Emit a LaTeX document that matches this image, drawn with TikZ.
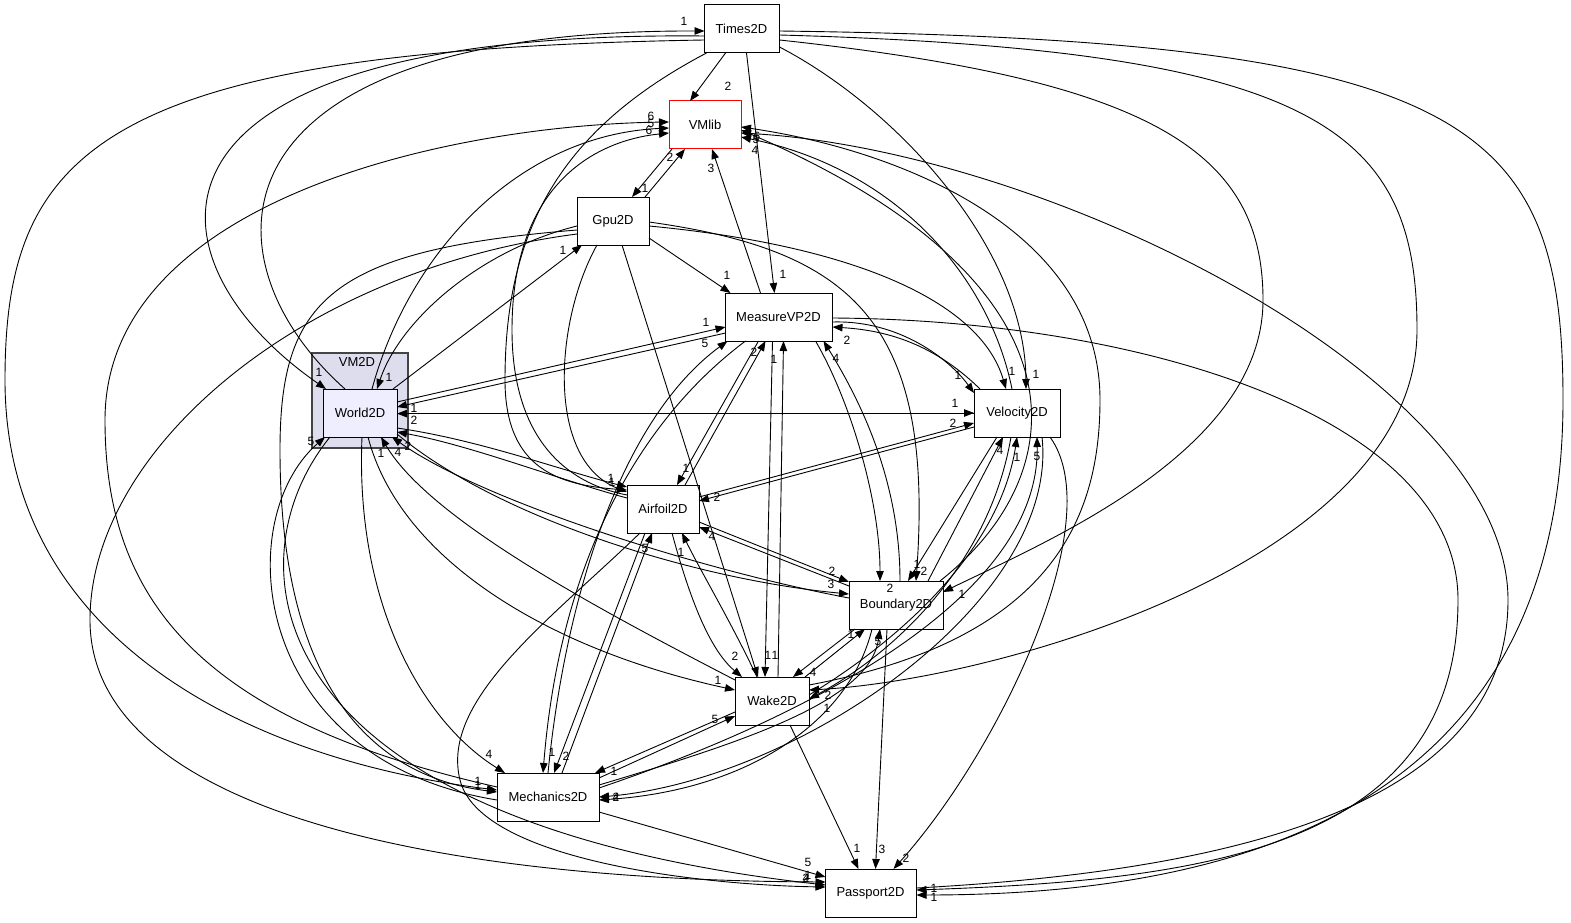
\documentclass[tikz,border=0pt]{standalone}
\usepackage{fontspec}
\setmainfont{Liberation Sans}
\usetikzlibrary{arrows.meta}
\definecolor{clfill}{RGB}{221,221,238}
\definecolor{clline}{RGB}{68,68,68}
\definecolor{wfill}{RGB}{238,238,255}
\tikzset{
  dep/.style={draw=black, line width=0.9pt, -{Triangle[length=10pt,width=7.5pt]}},
  lab/.style={font=\fontsize{12}{12}\selectfont, inner sep=0pt},
  box/.style={draw=black, line width=1pt, fill=white, minimum height=48pt, inner sep=0pt, font=\fontsize{13}{13}\selectfont},
}
\begin{document}
\begin{tikzpicture}[x=1pt,y=-1pt]
\path[use as bounding box, fill=white] (0,0) rectangle (1571,923);
% cluster
\node[draw=clline, line width=1.6pt, fill=clfill, minimum width=96pt, minimum height=95pt, inner sep=0pt] (VM2D) at (360,400.5) {};
\node[lab, font=\fontsize{13}{13}\selectfont] (VM2Dlab) at (357,362) {VM2D};
% nodes
\node[box, minimum width=75pt] (Times2D) at (741.5,29) {Times2D};
\node[box, minimum width=72pt, draw=red] (VMlib) at (705,125) {VMlib};
\node[box, minimum width=72pt] (Gpu2D) at (613,221) {Gpu2D};
\node[box, minimum width=107pt] (MeasureVP2D) at (778.5,317) {MeasureVP2D};
\node[box, minimum width=74pt, fill=wfill] (World2D) at (360,413) {World2D};
\node[box, minimum width=86pt] (Velocity2D) at (1017,413) {Velocity2D};
\node[box, minimum width=72pt] (Airfoil2D) at (663,509) {Airfoil2D};
\node[box, minimum width=94pt] (Boundary2D) at (896,605) {Boundary2D};
\node[box, minimum width=74pt] (Wake2D) at (772,701) {Wake2D};
\node[box, minimum width=102pt] (Mechanics2D) at (548,797) {Mechanics2D};
\node[box, minimum width=91pt] (Passport2D) at (870.5,893) {Passport2D};

% Times2D
\draw[dep] ([shift={(-16,24)}]Times2D.center) -- ([shift={(-15,-24)}]VMlib.center);
\draw[dep] ([shift={(5,24)}]Times2D.center) -- ([shift={(-4,-24)}]MeasureVP2D.center);
\draw[dep] ([shift={(-37,7)}]Times2D.center) .. controls (110,30) and (140,260) .. ([shift={(-34,-24)}]World2D.center);
\draw[dep] ([shift={(-15,-24)}]World2D.center) .. controls (200,260) and (200,30) .. ([shift={(-37,2)}]Times2D.center);
\draw[dep] ([shift={(-37,11)}]Times2D.center) .. controls (100,50) and (5,150) .. (5,380) .. controls (5,640) and (250,760) .. ([shift={(-51,-7)}]Mechanics2D.center);
\draw[dep] ([shift={(-35,24)}]Times2D.center) .. controls (560,130) and (505,230) .. (505,380) .. controls (505,470) and (560,485) .. ([shift={(-36,-19)}]Airfoil2D.center);
\draw[dep] ([shift={(38,18)}]Times2D.center) .. controls (900,110) and (1025,250) .. ([shift={(9,-24)}]Velocity2D.center);
\draw[dep] ([shift={(38,11)}]Times2D.center) .. controls (1150,80) and (1263,150) .. (1263,300) .. controls (1263,450) and (1050,540) .. ([shift={(47,-13)}]Boundary2D.center);
\draw[dep] ([shift={(38,6)}]Times2D.center) .. controls (1320,50) and (1417,130) .. (1417,330) .. controls (1417,560) and (1000,680) .. ([shift={(37,-11)}]Wake2D.center);
\draw[dep] ([shift={(38,2)}]Times2D.center) .. controls (1470,40) and (1563,120) .. (1563,400) .. controls (1563,830) and (1200,895) .. ([shift={(46,2)}]Passport2D.center);

% into VMlib
\draw[dep] ([shift={(46,-5)}]Passport2D.center) .. controls (1250,870) and (1508,800) .. (1508,600) .. controls (1508,380) and (1050,150) .. ([shift={(36,8)}]VMlib.center);
\draw[dep] ([shift={(54,1)}]MeasureVP2D.center) .. controls (1150,320) and (1458,420) .. (1458,600) .. controls (1458,850) and (1200,880) .. ([shift={(46,-3)}]Passport2D.center);
\draw[dep] ([shift={(-51,-10)}]Mechanics2D.center) .. controls (200,720) and (105,600) .. (105,420) .. controls (105,200) and (450,125) .. ([shift={(-36,-3)}]VMlib.center);
\draw[dep] ([shift={(12,-24)}]World2D.center) .. controls (410,250) and (520,135) .. ([shift={(-36,3)}]VMlib.center);
\draw[dep] ([shift={(-36,-14)}]Airfoil2D.center) .. controls (550,480) and (512,420) .. (512,330) .. controls (512,180) and (600,140) .. ([shift={(-36,8)}]VMlib.center);
\draw[dep] ([shift={(32,-24)}]Gpu2D.center) -- ([shift={(-20,24)}]VMlib.center);
\draw[dep] ([shift={(-33,24)}]VMlib.center) -- ([shift={(19,-24)}]Gpu2D.center);
\draw[dep] ([shift={(-18,-24)}]MeasureVP2D.center) -- ([shift={(7,24)}]VMlib.center);
\draw[dep] ([shift={(-5,-24)}]Velocity2D.center) .. controls (990,280) and (900,170) .. ([shift={(36,12)}]VMlib.center);
\draw[dep] ([shift={(44,-24)}]Boundary2D.center) .. controls (1080,470) and (1090,280) .. ([shift={(36,5)}]VMlib.center);
\draw[dep] ([shift={(37,-16)}]Wake2D.center) .. controls (1050,640) and (1100,520) .. (1100,400) .. controls (1100,230) and (900,150) .. ([shift={(36,2)}]VMlib.center);

% Gpu2D
\draw[dep] ([shift={(36,17)}]Gpu2D.center) -- ([shift={(-48,-24)}]MeasureVP2D.center);
\draw[dep] ([shift={(36,5)}]Gpu2D.center) .. controls (850,245) and (980,300) .. ([shift={(-11,-24)}]Velocity2D.center);
\draw[dep] ([shift={(36,1)}]Gpu2D.center) .. controls (850,250) and (935,320) .. ([shift={(20,-24)}]Boundary2D.center);
\draw[dep] ([shift={(-36,5)}]Gpu2D.center) .. controls (480,250) and (400,320) .. ([shift={(17,-24)}]World2D.center);
\draw[dep] ([shift={(33,-24)}]World2D.center) -- ([shift={(-31,24)}]Gpu2D.center);
\draw[dep] ([shift={(-16,24)}]Gpu2D.center) .. controls (555,320) and (545,460) .. ([shift={(-36,-17)}]Airfoil2D.center);
\draw[dep] ([shift={(9,24)}]Gpu2D.center) -- ([shift={(-14,-24)}]Wake2D.center);
\draw[dep] ([shift={(-36,9)}]Gpu2D.center) .. controls (330,250) and (280,300) .. (280,450) .. controls (280,720) and (400,780) .. ([shift={(-51,-5)}]Mechanics2D.center);
\draw[dep] ([shift={(-36,13)}]Gpu2D.center) .. controls (300,270) and (90,450) .. (90,620) .. controls (90,800) and (400,880) .. ([shift={(-45,-11)}]Passport2D.center);

% MeasureVP2D
\draw[dep] ([shift={(37,-11)}]World2D.center) -- ([shift={(-53,10)}]MeasureVP2D.center);
\draw[dep] ([shift={(-53,16)}]MeasureVP2D.center) -- ([shift={(37,-6)}]World2D.center);
\draw[dep] ([shift={(0,-24)}]Mechanics2D.center) .. controls (565,600) and (620,420) .. ([shift={(-51,24)}]MeasureVP2D.center);
\draw[dep] ([shift={(-33,24)}]MeasureVP2D.center) .. controls (640,420) and (560,560) .. ([shift={(-5,-24)}]Mechanics2D.center);
\draw[dep] ([shift={(22,-24)}]Airfoil2D.center) -- ([shift={(-13,24)}]MeasureVP2D.center);
\draw[dep] ([shift={(-20,24)}]MeasureVP2D.center) -- ([shift={(14,-24)}]Airfoil2D.center);
\draw[dep] ([shift={(-6,24)}]MeasureVP2D.center) -- ([shift={(-7,-24)}]Wake2D.center);
\draw[dep] ([shift={(6,-24)}]Wake2D.center) -- ([shift={(5,24)}]MeasureVP2D.center);
\draw[dep] ([shift={(37,24)}]MeasureVP2D.center) .. controls (850,400) and (880,500) .. ([shift={(-16,-24)}]Boundary2D.center);
\draw[dep] ([shift={(4,-24)}]Boundary2D.center) .. controls (900,480) and (860,400) .. ([shift={(45,24)}]MeasureVP2D.center);
\draw[dep] ([shift={(-37,-24)}]Velocity2D.center) .. controls (930,340) and (880,330) .. ([shift={(54,10)}]MeasureVP2D.center);
\draw[dep] ([shift={(54,5)}]MeasureVP2D.center) .. controls (900,320) and (950,360) .. ([shift={(-43,-20)}]Velocity2D.center);

% World2D
\draw[dep] ([shift={(37,0)}]World2D.center) -- ([shift={(-43,0)}]Velocity2D.center);
\draw[dep] ([shift={(-43,0.6)}]Velocity2D.center) -- ([shift={(37,0.6)}]World2D.center);
\draw[dep] ([shift={(37,15)}]World2D.center) .. controls (480,440) and (560,470) .. ([shift={(-36,-22)}]Airfoil2D.center);
\draw[dep] ([shift={(-36,-11)}]Airfoil2D.center) .. controls (560,480) and (470,445) .. ([shift={(37,19)}]World2D.center);
\draw[dep] ([shift={(-47,-7)}]Boundary2D.center) .. controls (700,570) and (480,500) .. ([shift={(32,24)}]World2D.center);
\draw[dep] ([shift={(37,21)}]World2D.center) .. controls (500,520) and (700,580) .. ([shift={(-47,-11)}]Boundary2D.center);
\draw[dep] ([shift={(-37,-21)}]Wake2D.center) .. controls (600,610) and (430,520) .. ([shift={(21,24)}]World2D.center);
\draw[dep] ([shift={(8,24)}]World2D.center) .. controls (400,560) and (550,650) .. ([shift={(-37,-11)}]Wake2D.center);
\draw[dep] ([shift={(2,24)}]World2D.center) .. controls (355,600) and (420,720) .. ([shift={(-43,-24)}]Mechanics2D.center);
\draw[dep] ([shift={(-51,3)}]Mechanics2D.center) .. controls (250,760) and (230,520) .. ([shift={(-35,24)}]World2D.center);
\draw[dep] ([shift={(-30,24)}]World2D.center) .. controls (230,560) and (250,820) .. ([shift={(-45,-8)}]Passport2D.center);

% Airfoil2D
\draw[dep] ([shift={(36,-12)}]Airfoil2D.center) -- ([shift={(-43,10)}]Velocity2D.center);
\draw[dep] ([shift={(-43,14)}]Velocity2D.center) -- ([shift={(36,-8)}]Airfoil2D.center);
\draw[dep] ([shift={(36,13)}]Airfoil2D.center) -- ([shift={(-47,-23)}]Boundary2D.center);
\draw[dep] ([shift={(-47,-19)}]Boundary2D.center) -- ([shift={(36,18)}]Airfoil2D.center);
\draw[dep] ([shift={(9,24)}]Airfoil2D.center) .. controls (690,600) and (710,650) .. ([shift={(-30,-24)}]Wake2D.center);
\draw[dep] ([shift={(-15,-24)}]Wake2D.center) .. controls (730,620) and (700,570) .. ([shift={(19,24)}]Airfoil2D.center);
\draw[dep] ([shift={(14,-24)}]Mechanics2D.center) -- ([shift={(-11,24)}]Airfoil2D.center);
\draw[dep] ([shift={(-18,24)}]Airfoil2D.center) -- ([shift={(6,-24)}]Mechanics2D.center);
\draw[dep] ([shift={(-23,24)}]Airfoil2D.center) .. controls (550,620) and (440,700) .. (460,780) .. controls (480,860) and (700,885) .. ([shift={(-45,-6)}]Passport2D.center);

% Velocity2D
\draw[dep] ([shift={(32,-24)}]Boundary2D.center) -- ([shift={(-14,24)}]Velocity2D.center);
\draw[dep] ([shift={(-20,24)}]Velocity2D.center) -- ([shift={(12,-24)}]Boundary2D.center);
\draw[dep] ([shift={(37,-6)}]Wake2D.center) .. controls (900,640) and (1000,550) .. ([shift={(0,24)}]Velocity2D.center);
\draw[dep] ([shift={(-6,24)}]Velocity2D.center) .. controls (990,560) and (900,650) .. ([shift={(37,-2)}]Wake2D.center);
\draw[dep] ([shift={(51,-9)}]Mechanics2D.center) .. controls (800,720) and (1040,600) .. ([shift={(20,24)}]Velocity2D.center);
\draw[dep] ([shift={(25,24)}]Velocity2D.center) .. controls (1060,600) and (800,780) .. ([shift={(51,0)}]Mechanics2D.center);
\draw[dep] ([shift={(33,24)}]Velocity2D.center) .. controls (1110,520) and (1000,750) .. ([shift={(23,-24)}]Passport2D.center);

% Boundary2D, Wake2D, Mechanics2D
\draw[dep] ([shift={(33,-24)}]Wake2D.center) -- ([shift={(-31,24)}]Boundary2D.center);
\draw[dep] ([shift={(-41,24)}]Boundary2D.center) -- ([shift={(21,-24)}]Wake2D.center);
\draw[dep] ([shift={(51,-12)}]Mechanics2D.center) .. controls (750,740) and (870,700) .. ([shift={(-16,24)}]Boundary2D.center);
\draw[dep] ([shift={(-24,24)}]Boundary2D.center) .. controls (850,720) and (750,790) .. ([shift={(51,3)}]Mechanics2D.center);
\draw[dep] ([shift={(-9,24)}]Boundary2D.center) -- ([shift={(5,-24)}]Passport2D.center);
\draw[dep] ([shift={(-37,11)}]Wake2D.center) -- ([shift={(47,-24)}]Mechanics2D.center);
\draw[dep] ([shift={(51,-19)}]Mechanics2D.center) -- ([shift={(-37,15)}]Wake2D.center);
\draw[dep] ([shift={(18,24)}]Wake2D.center) -- ([shift={(-12,-24)}]Passport2D.center);
\draw[dep] ([shift={(51,15)}]Mechanics2D.center) -- ([shift={(-45,-16)}]Passport2D.center);

% labels
\node[lab] (l1) at (684,21) {1};
\node[lab] (l2) at (728,86) {2};
\node[lab] (l3) at (651,116) {6};
\node[lab] (l4) at (651,123) {5};
\node[lab] (l5) at (649,130) {6};
\node[lab] (l6) at (670,157) {2};
\node[lab] (l7) at (711,168) {3};
\node[lab] (l8) at (757,136) {6};
\node[lab] (l9) at (756,139) {5};
\node[lab] (l10) at (755,150) {4};
\node[lab] (l11) at (645,188) {1};
\node[lab] (l12) at (563,250) {1};
\node[lab] (l13) at (727,275) {1};
\node[lab] (l14) at (783,274) {1};
\node[lab] (l15) at (706,322) {1};
\node[lab] (l16) at (705,343) {5};
\node[lab] (l17) at (754,352) {2};
\node[lab] (l18) at (774,359) {1};
\node[lab] (l19) at (847,340) {2};
\node[lab] (l20) at (836,358) {4};
\node[lab] (l21) at (319,372) {1};
\node[lab] (l22) at (389,377) {1};
\node[lab] (l23) at (414,408) {1};
\node[lab] (l24) at (414,420) {2};
\node[lab] (l25) at (311,441) {5};
\node[lab] (l26) at (381,453) {1};
\node[lab] (l27) at (398,452) {4};
\node[lab] (l28) at (408,446) {2};
\node[lab] (l29) at (611,478) {1};
\node[lab] (l30) at (612,482) {1};
\node[lab] (l31) at (686,468) {1};
\node[lab] (l32) at (717,497) {2};
\node[lab] (l33) at (712,536) {4};
\node[lab] (l34) at (645,548) {5};
\node[lab] (l35) at (681,552) {1};
\node[lab] (l36) at (1012,371) {1};
\node[lab] (l37) at (1036,374) {1};
\node[lab] (l38) at (958,375) {1};
\node[lab] (l39) at (955,403) {1};
\node[lab] (l40) at (953,423) {2};
\node[lab] (l41) at (1000,450) {4};
\node[lab] (l42) at (1017,457) {1};
\node[lab] (l43) at (1037,456) {5};
\node[lab] (l44) at (890,588) {2};
\node[lab] (l45) at (917,564) {1};
\node[lab] (l46) at (924,571) {2};
\node[lab] (l47) at (962,594) {1};
\node[lab] (l48) at (832,571) {2};
\node[lab] (l49) at (831,584) {3};
\node[lab] (l50) at (851,634) {1};
\node[lab] (l51) at (878,641) {5};
\node[lab] (l52) at (735,656) {2};
\node[lab] (l53) at (768,655) {1};
\node[lab] (l54) at (775,655) {1};
\node[lab] (l55) at (813,672) {4};
\node[lab] (l56) at (718,680) {1};
\node[lab] (l57) at (828,695) {2};
\node[lab] (l58) at (827,708) {1};
\node[lab] (l59) at (715,719) {5};
\node[lab] (l60) at (489,754) {4};
\node[lab] (l61) at (552,752) {1};
\node[lab] (l62) at (566,756) {2};
\node[lab] (l63) at (478,781) {1};
\node[lab] (l64) at (478,785) {1};
\node[lab] (l65) at (614,771) {1};
\node[lab] (l66) at (616,797) {2};
\node[lab] (l67) at (616,797) {4};
\node[lab] (l68) at (857,848) {1};
\node[lab] (l69) at (882,849) {3};
\node[lab] (l70) at (906,858) {2};
\node[lab] (l71) at (808,862) {5};
\node[lab] (l72) at (808,875) {1};
\node[lab] (l73) at (806,878) {2};
\node[lab] (l74) at (806,878) {4};
\node[lab] (l75) at (934,897) {1};
\node[lab] (l76) at (934,888) {1};
\end{tikzpicture}
\end{document}
